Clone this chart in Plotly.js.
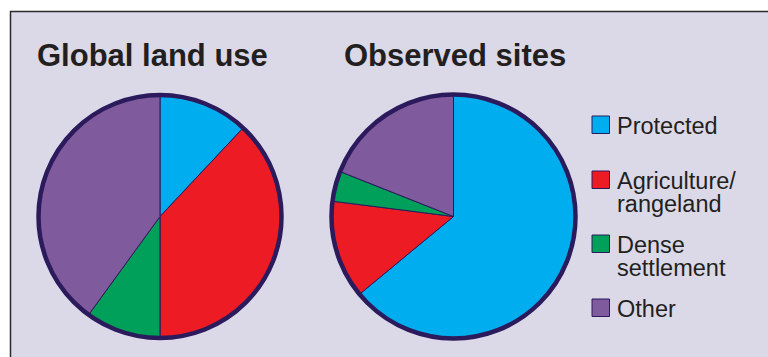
<!DOCTYPE html>
<html>
<head>
<meta charset="utf-8">
<script src="https://cdn.plot.ly/plotly-3.0.1.min.js"></script>
<style>
  html, body { margin: 0; padding: 0; background: #ffffff; }
  #chart { width: 768px; height: 357px; }
</style>
</head>
<body>
<div id="chart"></div>
<script>
// Land-use categories shared by both pies
const categories = ['Protected', 'Agriculture/\nrangeland', 'Dense\nsettlement', 'Other'];
const colors = ['#00aeef', '#ed1c24', '#00a05a', '#7f5a9c'];

// Share of each category (%)
const globalLandUse = [12, 38, 10, 40];
const observedSites = [64, 13, 4, 19];

const titles = ['Global land use', 'Observed sites'];

const W = 768, H = 357;
const px = x => x / W;
const py = y => 1 - y / H;

const outline = '#2b1a5c';
const ink = '#231f20';

// Pie placement in pixels: centre and radius
const pies = [
  { cx: 160, cy: 216.5, r: 121.5, values: globalLandUse, title: titles[0], tx: 35 },
  { cx: 453.5, cy: 216.5, r: 122, values: observedSites, title: titles[1], tx: 342 }
];

const traces = pies.map(p => ({
  type: 'pie',
  labels: categories.map(c => c.replace('\n', ' ')),
  values: p.values,
  sort: false,
  direction: 'clockwise',
  rotation: 0,
  textinfo: 'none',
  hoverinfo: 'label+percent',
  showlegend: false,
  marker: { colors: colors, line: { color: outline, width: 1 } },
  domain: { x: [px(p.cx - p.r), px(p.cx + p.r)], y: [py(p.cy + p.r), py(p.cy - p.r)] }
}));

const shapes = [];
const annotations = [];

// Panel background with a rule along the top and left edges
shapes.push({
  type: 'rect', xref: 'paper', yref: 'paper', layer: 'below',
  x0: px(10.5), x1: 1.05, y0: -0.05, y1: py(11.5),
  fillcolor: '#dbd9e8', line: { color: '#2a2a2a', width: 1.5 }
});

// Heavy rim around each pie, plus the pie title
pies.forEach(p => {
  shapes.push({
    type: 'circle', xref: 'paper', yref: 'paper', layer: 'above',
    x0: px(p.cx - p.r), x1: px(p.cx + p.r), y0: py(p.cy + p.r), y1: py(p.cy - p.r),
    line: { color: outline, width: 4.5 }, fillcolor: 'rgba(0,0,0,0)'
  });
  annotations.push({
    xref: 'paper', yref: 'paper', x: px(p.tx), y: py(55), xanchor: 'left', yanchor: 'middle',
    text: '<b>' + p.title + '</b>', showarrow: false,
    font: { family: 'Liberation Sans, Arial, sans-serif', size: 31, color: ink }
  });
});

// Legend: swatches and labels (one annotation per text line, set tight)
const swatchTop = [116, 171, 235, 299];
const sw = 17.5, lx = 592, lineGap = 23;
categories.forEach((c, i) => {
  const t = swatchTop[i];
  shapes.push({
    type: 'rect', xref: 'paper', yref: 'paper', layer: 'above',
    x0: px(lx), x1: px(lx + sw), y0: py(t + sw), y1: py(t),
    fillcolor: colors[i], line: { color: outline, width: 1 }
  });
  c.split('\n').forEach((line, j) => {
    annotations.push({
      xref: 'paper', yref: 'paper', x: px(615), y: py(t + 10 + j * lineGap),
      xanchor: 'left', yanchor: 'middle',
      text: line, showarrow: false,
      font: { family: 'Liberation Sans, Arial, sans-serif', size: 23.5, color: ink }
    });
  });
});

Plotly.newPlot('chart', traces, {
  width: W, height: H,
  margin: { l: 0, r: 0, t: 0, b: 0 },
  paper_bgcolor: '#ffffff',
  showlegend: false,
  shapes: shapes,
  annotations: annotations
}, { displayModeBar: false, staticPlot: true });
</script>
</body>
</html>
